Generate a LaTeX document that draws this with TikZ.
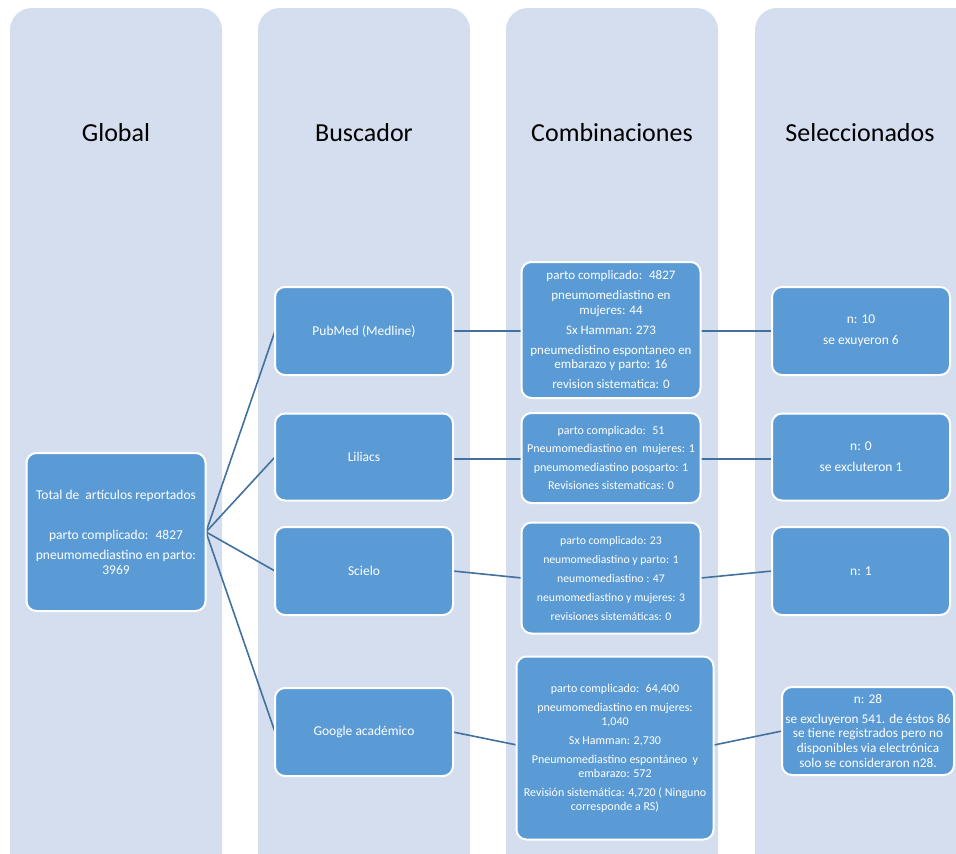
\documentclass[tikz,border=0pt]{standalone}
\usepackage{fontspec}
\setmainfont{Carlito}
\definecolor{colbg}{HTML}{D4DEEF}
\definecolor{boxblue}{HTML}{5B9BD5}
\definecolor{linkblue}{HTML}{41719C}

\begin{document}
\begin{tikzpicture}[x=1pt,y=-1pt,
  column/.style={fill=colbg, rounded corners=22pt},
  heading/.style={font=\fontsize{26}{30}\selectfont},
  box/.style={draw=white, line width=2pt, fill=boxblue, rounded corners=10pt,
    text=white, align=center, font=\fontsize{13.5}{15}\selectfont, inner sep=2pt},
  midbox/.style={box, font=\fontsize{13}{14.5}\selectfont},
  smallbox/.style={box, font=\fontsize{12}{14.5}\selectfont},
  link/.style={draw=linkblue, line width=1.6pt}]

\useasboundingbox (0,0) rectangle (956,854);
\clip (0,0) rectangle (956,854);

%% Columns %%
\fill[column] (10,8) rectangle (222,900);
\fill[column] (258,8) rectangle (470,900);
\fill[column] (506,8) rectangle (718,900);
\fill[column] (755,8) rectangle (990,900);

% headings %
\node[heading] (hglobal) at (116,133) {Global};
\node[heading] (hbusc) at (364,133) {Buscador};
\node[heading] (hcomb) at (612,133) {Combinaciones};
\node[heading] (hsel) at (860,133) {Seleccionados};

%% Connection lines %%
% drawn first so the boxes sit on top %
\coordinate (totE) at (206,532);
\coordinate (pubW) at (275,331);
\coordinate (pubE) at (453,331);
\coordinate (lilW) at (275,457);
\coordinate (lilE) at (453,459);
\coordinate (sciW) at (275,571);
\coordinate (sciE) at (453,571);
\coordinate (gooW) at (275,732);
\coordinate (gooE) at (453,732);
\coordinate (cAW) at (522,331);
\coordinate (cAE) at (701,331);
\coordinate (cBW) at (522,459);
\coordinate (cBE) at (701,459);
\coordinate (cCW) at (522,578);
\coordinate (cCE) at (701,578);
\coordinate (cDW) at (517,745);
\coordinate (cDE) at (714,745);
\coordinate (sAW) at (772,331);
\coordinate (sBW) at (772,459);
\coordinate (sCW) at (772,571);
\coordinate (sDW) at (782,731);

% left to right %
\draw[link] (totE) -- (pubW);
\draw[link] (totE) -- (lilW);
\draw[link] (totE) -- (sciW);
\draw[link] (totE) -- (gooW);

\draw[link] (pubE) -- (cAW);
\draw[link] (lilE) -- (cBW);
\draw[link] (sciE) -- (cCW);
\draw[link] (gooE) -- (cDW);

\draw[link] (cAE) -- (sAW);
\draw[link] (cBE) -- (sBW);
\draw[link] (cCE) -- (sCW);
\draw[link] (cDE) -- (sDW);

%% Boxes %%
% global %
\node[box, minimum width=179pt, minimum height=158pt] (total) at (116,532)
  {Total de \ artículos reportados\\[25pt]
   parto complicado: \ 4827\\[5pt]
   pneumomediastino en parto:\\3969};

% buscador %
\node[box, minimum width=178pt, minimum height=88pt] (pub) at (364,331) {PubMed (Medline)};
\node[box, minimum width=178pt, minimum height=87pt] (lil) at (364,457) {Liliacs};
\node[box, minimum width=178pt, minimum height=88pt] (sci) at (364,571) {Scielo};
\node[box, minimum width=178pt, minimum height=88pt] (goo) at (364,732) {Google académico};

% combinaciones %
\node[midbox, minimum width=179pt, minimum height=136pt] (combA) at (611,330)
  {parto complicado: \ 4827\\[5.5pt]
   pneumomediastino en\\mujeres: 44\\[5.5pt]
   Sx Hamman: 273\\[5.5pt]
   pneumedistino espontaneo en\\embarazo y parto: 16\\[5.5pt]
   revision sistematica: 0};
\node[smallbox, minimum width=179pt, minimum height=90pt] (combB) at (611,458)
  {parto complicado: \ 51\\[4pt]
   Pneumomediastino en \ mujeres: 1\\[4pt]
   pneumomediastino posparto: 1\\[4pt]
   Revisiones sistematicas: 0};
\node[smallbox, font=\fontsize{11.7}{14.5}\selectfont, minimum width=179pt, minimum height=111pt] (combC) at (611,578)
  {parto complicado: 23\\[4.5pt]
   neumomediastino y parto: 1\\[4.5pt]
   neumomediastino : 47\\[4.5pt]
   neumomediastino y mujeres: 3\\[4.5pt]
   revisiones sistemáticas: 0};
\node[smallbox, font=\fontsize{12}{14}\selectfont, minimum width=197pt, minimum height=183pt] (combD) at (615,748)
  {parto complicado: \ 64,400\\[5pt]
   pneumomediastino en mujeres:\\1,040\\[5pt]
   Sx Hamman: 2,730\\[5pt]
   Pneumomediastino espontáneo \ y\\embarazo: 572\\[5pt]
   Revisión sistemática: 4,720 ( Ninguno\\corresponde a RS)};

% seleccionados %
\node[box, minimum width=178pt, minimum height=88pt] (selA) at (861,331)
  {n: 10\\[6pt]se exuyeron 6};
\node[box, minimum width=178pt, minimum height=87pt] (selB) at (861,457)
  {n: 0\\[6pt]se excluteron 1};
\node[box, minimum width=178pt, minimum height=88pt] (selC) at (861,571) {n: 1};
\node[box, font=\fontsize{13.3}{14.5}\selectfont, minimum width=172pt, minimum height=88pt] (selD) at (868,731)
  {n: 28\\[5pt]
   se excluyeron 541. de éstos 86\\se tiene registrados pero no\\
   disponibles via electrónica\\solo se consideraron n28.};

\end{tikzpicture}
\end{document}
